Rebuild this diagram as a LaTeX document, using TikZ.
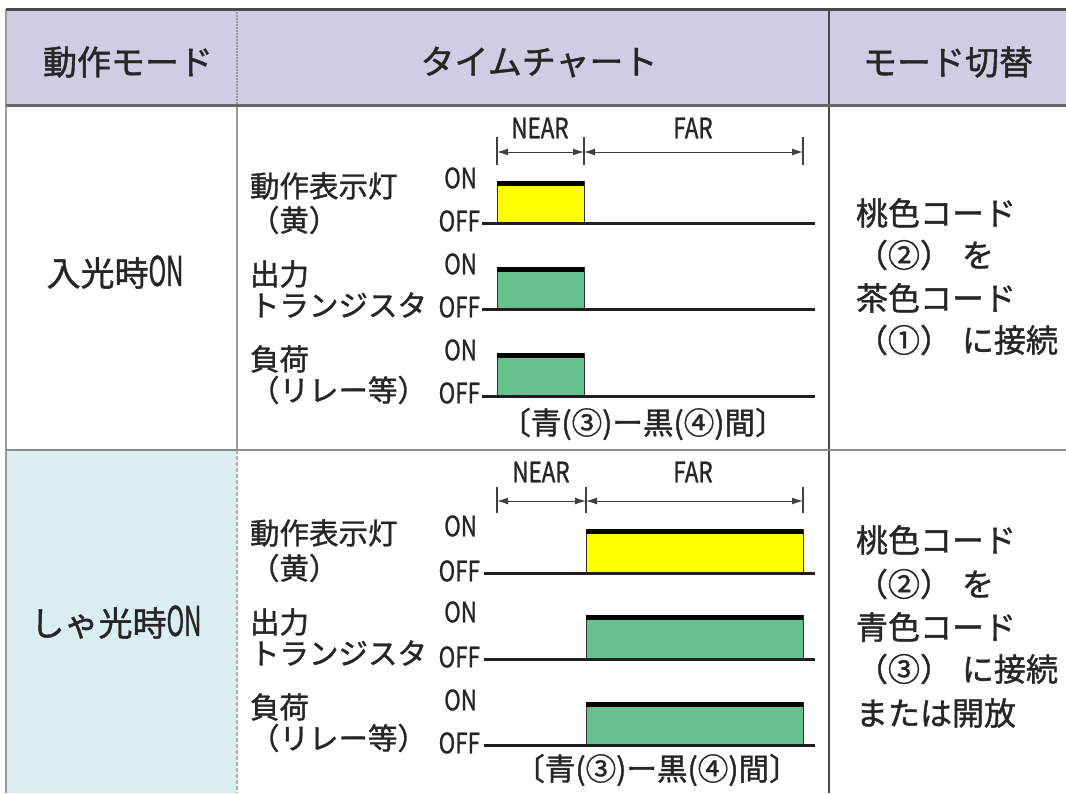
\documentclass[tikz,border=0pt]{standalone}
\usepackage{fontspec}
\usepackage{graphicx}
\setmainfont{Noto Sans CJK JP}[FakeBold=1.2]
\usetikzlibrary{arrows.meta}
\definecolor{hdr}{HTML}{CFCCE4}
\definecolor{cyanc}{HTML}{DAEEF1}
\definecolor{grn}{HTML}{66C18E}
\definecolor{ylw}{HTML}{FFFF00}
\definecolor{txt}{HTML}{262626}
\definecolor{bord}{HTML}{4A4A4A}
\definecolor{lgray}{HTML}{9A9A9A}
\newcommand{\nar}[2][0.8]{\scalebox{#1}[1]{#2}}
\tikzset{
  tx/.style={inner sep=0pt, outer sep=0pt, text=txt},
  hd/.style={tx, font=\fontsize{34}{36}\selectfont},
  md/.style={tx, font=\fontsize{34}{36}\selectfont},
  lb/.style={tx, anchor=west, font=\fontsize{29.5}{30}\selectfont},
  oo/.style={tx, anchor=east, font=\fontsize{28}{30}\selectfont},
  dmtxt/.style={tx, font=\fontsize{28}{30}\selectfont},
  rc/.style={tx, anchor=west, font=\fontsize{32}{34}\selectfont},
  br/.style={tx, font=\fontsize{30.5}{32}\selectfont},
  offline/.style={line width=3pt, draw=black!88},
  boxy/.style={fill=ylw, draw=black!80, line width=1pt},
  boxg/.style={fill=grn, draw=black!80, line width=1pt},
  onband/.style={line width=5pt, draw=black},
  tickln/.style={line width=1.3pt, draw=black!75},
  dimln/.style={line width=1pt, draw=black!75, {Latex[length=11pt,width=7pt]}-{Latex[length=11pt,width=7pt]}},
}
\begin{document}
\begin{tikzpicture}[x=1pt,y=-1pt]
\useasboundingbox (0,0) rectangle (1066,793);
\fill[white] (0,0) rectangle (1066,793);
% fills
\fill[hdr] (6,9) rectangle (1066,105);
\fill[cyanc] (6,450) rectangle (237,793);
% table lines
\draw[line width=2pt, draw=lgray] (6,9) -- (6,793);
\draw[line width=2pt, draw=lgray, dash pattern=on 2pt off 1pt] (237,9) -- (237,105);
\draw[line width=2pt, draw=lgray] (237,105) -- (237,450);
\draw[line width=2pt, draw=lgray!80, dash pattern=on 4pt off 2pt] (237,450) -- (237,793);
\draw[line width=2.5pt, draw=bord] (829,9) -- (829,793);
\draw[line width=3pt, draw=bord] (6,9) -- (1066,9);
\draw[line width=3pt, draw=black!60] (6,105) -- (1066,105);
\draw[line width=2.5pt, draw=black!45] (6,450) -- (1066,450);

% header
\node[hd] (h1) at (128,62) {動作モード};
\node[hd] (h2) at (539,62) {タイムチャート};
\node[hd] (h3) at (948,62) {モード切替};

% mode names
\node[md] (m1) at (115,272) {入光時{\fontsize{41}{41}\selectfont\nar[0.58]{ON}}};
\node[md] (m2) at (116,622) {しゃ光時{\fontsize{41}{41}\selectfont\nar[0.58]{ON}}};

% ===== row 1 chart =====
\coordinate (a1) at (497,137); \coordinate (a1b) at (497,165);
\coordinate (b1) at (584,137); \coordinate (b1b) at (584,165);
\coordinate (c1) at (803,137); \coordinate (c1b) at (803,165);
\draw[tickln] (a1) -- (a1b);
\draw[tickln] (b1) -- (b1b);
\draw[tickln] (c1) -- (c1b);
\coordinate (a1m) at (497,152); \coordinate (b1m) at (584,152); \coordinate (c1m) at (803,152);
\draw[dimln] (a1m) -- (b1m);
\draw[dimln] (b1m) -- (c1m);
\node[dmtxt] (near1) at (540,128) {\nar{NEAR}};
\node[dmtxt] (far1) at (693,128) {\nar{FAR}};

\node[lb] (l1a) at (250,186) {動作表示灯};
\node[lb] (l1b) at (250,220) {（黄）};
\node[lb] (l2a) at (250,274) {出力};
\node[lb] (l2b) at (250,305) {トランジスタ};
\node[lb] (l3a) at (250,359) {負荷};
\node[lb] (l3b) at (250,390) {（リレー等）};

\node[oo] (on11) at (477,178) {\nar{ON}};
\node[oo] (of11) at (480,221) {\nar{OFF}};
\node[oo] (on12) at (477,264) {\nar{ON}};
\node[oo] (of12) at (480,307) {\nar{OFF}};
\node[oo] (on13) at (477,350) {\nar{ON}};
\node[oo] (of13) at (480,393) {\nar{OFF}};

\path[boxy] (497,181) rectangle (584,223);
\draw[onband] (497,183.5) -- (584,183.5);
\path[boxg] (497,267) rectangle (584,309);
\draw[onband] (497,269.5) -- (584,269.5);
\path[boxg] (497,353) rectangle (584,396);
\draw[onband] (497,355.5) -- (584,355.5);
\draw[offline] (482,223) -- (815,223);
\draw[offline] (482,309) -- (815,309);
\draw[offline] (482,396) -- (815,396);

\node[br] (br1) at (643,424) {〔青(③)ー黒(④)間〕};

% ===== row 2 chart =====
\coordinate (a2) at (497,487); \coordinate (a2b) at (497,513);
\coordinate (b2) at (586,487); \coordinate (b2b) at (586,513);
\coordinate (c2) at (803,487); \coordinate (c2b) at (803,513);
\draw[tickln] (a2) -- (a2b);
\draw[tickln] (b2) -- (b2b);
\draw[tickln] (c2) -- (c2b);
\coordinate (a2m) at (497,501); \coordinate (b2m) at (586,501); \coordinate (c2m) at (803,501);
\draw[dimln] (a2m) -- (b2m);
\draw[dimln] (b2m) -- (c2m);
\node[dmtxt] (near2) at (541,472) {\nar{NEAR}};
\node[dmtxt] (far2) at (693,472) {\nar{FAR}};

\node[lb] (k1a) at (250,533) {動作表示灯};
\node[lb] (k1b) at (250,568) {（黄）};
\node[lb] (k2a) at (250,622) {出力};
\node[lb] (k2b) at (250,653) {トランジスタ};
\node[lb] (k3a) at (250,707) {負荷};
\node[lb] (k3b) at (250,738) {（リレー等）};

\node[oo] (on21) at (477,526) {\nar{ON}};
\node[oo] (of21) at (480,571) {\nar{OFF}};
\node[oo] (on22) at (477,612) {\nar{ON}};
\node[oo] (of22) at (480,657) {\nar{OFF}};
\node[oo] (on23) at (477,700) {\nar{ON}};
\node[oo] (of23) at (480,743) {\nar{OFF}};

\path[boxy] (586,529) rectangle (803,573);
\draw[onband] (586,531.5) -- (803,531.5);
\path[boxg] (586,615) rectangle (803,659);
\draw[onband] (586,617.5) -- (803,617.5);
\path[boxg] (586,702) rectangle (803,745);
\draw[onband] (586,704.5) -- (803,704.5);
\draw[offline] (484,573) -- (815,573);
\draw[offline] (484,659) -- (815,659);
\draw[offline] (484,745) -- (815,745);

\node[br] (br2) at (657,770) {〔青(③)ー黒(④)間〕};

% ===== right column =====
\node[rc] (r11) at (856,213) {桃色コード};
\node[rc] (r12) at (856,255) {（②）\hspace{10pt}を};
\node[rc] (r13) at (856,298) {茶色コード};
\node[rc] (r14) at (856,340) {（①）\hspace{10pt}に接続};

\node[rc] (r21) at (856,540) {桃色コード};
\node[rc] (r22) at (856,584) {（②）\hspace{10pt}を};
\node[rc] (r23) at (856,627) {青色コード};
\node[rc] (r24) at (856,669) {（③）\hspace{10pt}に接続};
\node[rc] (r25) at (856,713) {または開放};
\end{tikzpicture}
\end{document}
